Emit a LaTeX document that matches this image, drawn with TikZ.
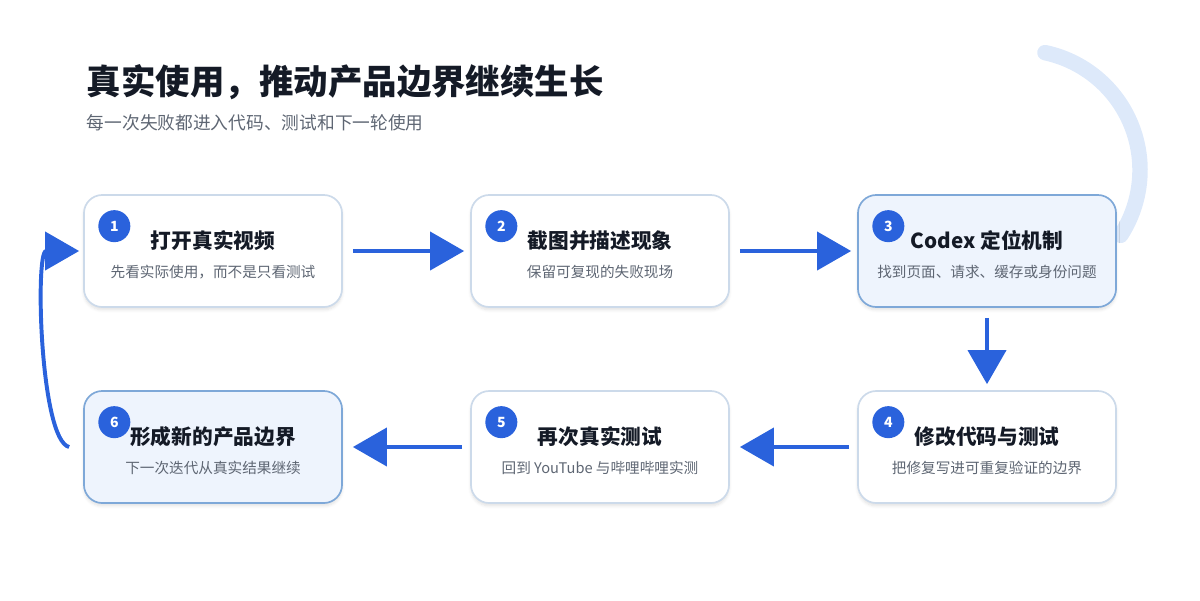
\documentclass[tikz,border=0pt]{standalone}
\usepackage{fontspec}
\setmainfont{Noto Sans CJK SC}
\usetikzlibrary{arrows.meta,positioning,shadows.blur}
\definecolor{flowblue}{HTML}{2A62DC}
\definecolor{boxedge}{HTML}{CCDAEA}
\definecolor{hiedge}{HTML}{7EA8D8}
\definecolor{hifill}{HTML}{EEF4FD}
\definecolor{ringblue}{HTML}{DDE9FA}
\definecolor{inkdark}{HTML}{141A26}
\definecolor{inkgray}{HTML}{5E6673}

\begin{document}
\begin{tikzpicture}[x=0.025cm, y=-0.025cm]
    \tikzstyle{stage} = [draw=boxedge, line width=1.2pt, fill=white, rounded corners=13pt,
        minimum width=6.45cm, minimum height=2.8cm, blur shadow={shadow blur steps=6, shadow xshift=0pt, shadow yshift=-2pt, shadow opacity=12}]
    \tikzstyle{hot} = [draw=hiedge, fill=hifill]
    \tikzstyle{badge} = [circle, fill=flowblue, text=white, font=\bfseries\fontsize{10}{10}\selectfont, minimum size=0.8cm, inner sep=0pt]
    \tikzstyle{head} = [font=\bfseries\fontsize{14.7}{16}\selectfont, text=inkdark]
    \tikzstyle{note} = [font=\fontsize{10.4}{12}\selectfont, text=inkgray]
    \tikzstyle{flow} = [line width=2.8pt, flowblue, -{Triangle[length=0.85cm, width=0.95cm]}]
    \useasboundingbox (0,0) rectangle (1200,600);
    % background ring
    \draw[ringblue, line width=11pt, line cap=round] (1020,170) ++(-78:120) arc[start angle=-78, end angle=33, radius=120];
    % headline
    \node[anchor=west, font=\bfseries\fontsize{24.5}{26}\selectfont, text=inkdark] (title) at (82,82) {真实使用，推动产品边界继续生长};
    \node[anchor=west, font=\fontsize{12.6}{14}\selectfont, text=inkgray] (subtitle) at (82,123) {每一次失败都进入代码、测试和下一轮使用};
    % steps
    \node[stage] (s1) at (213,251) {};
    \node[stage] (s2) at (600,251) {};
    \node[stage, hot] (s3) at (987,251) {};
    \node[stage] (s4) at (987,447) {};
    \node[stage] (s5) at (600,447) {};
    \node[stage, hot] (s6) at (213,447) {};
    \foreach \n/\t/\d in {1/打开真实视频/先看实际使用，而不是只看测试,
                          2/截图并描述现象/保留可复现的失败现场,
                          3/Codex 定位机制/找到页面、请求、缓存或身份问题,
                          4/修改代码与测试/把修复写进可重复验证的边界,
                          5/再次真实测试/回到 YouTube 与哔哩哔哩实测,
                          6/形成新的产品边界/下一次迭代从真实结果继续} {
        \node[badge] (b\n) at ([xshift=0.78cm, yshift=-0.8cm]s\n.north west) {\n};
        \node[head] (h\n) at ([yshift=0.27cm]s\n.center) {\t};
        \node[note] (d\n) at ([yshift=-0.53cm]s\n.center) {\d};
    }
    % connectors
    \draw[flow] ([xshift=0.25cm]s1.east) -- ([xshift=-0.15cm]s2.west);
    \draw[flow] ([xshift=0.25cm]s2.east) -- ([xshift=-0.15cm]s3.west);
    \draw[flow] ([yshift=-0.25cm]s3.south) -- ([yshift=0.15cm]s4.north);
    \draw[flow] ([xshift=-0.2cm]s4.west) -- ([xshift=0.25cm]s5.east);
    \draw[flow] ([xshift=-0.2cm]s5.west) -- ([xshift=0.25cm]s6.east);
    \draw[flow] ([xshift=-0.35cm]s6.west) .. controls (40,440) and (35,251) .. ([xshift=-0.1cm]s1.west);
\end{tikzpicture}
\end{document}
